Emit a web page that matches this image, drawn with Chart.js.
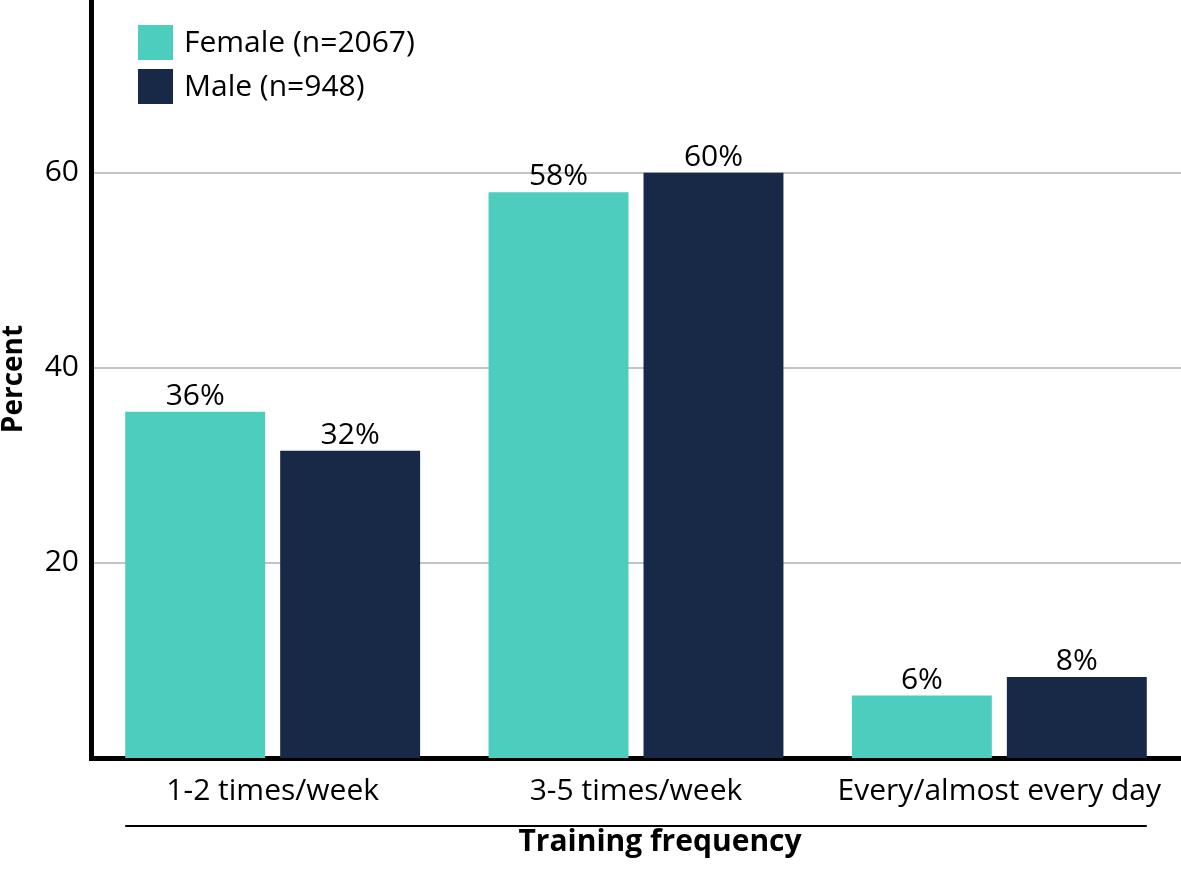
<!DOCTYPE html>
<html>
<head>
<meta charset="utf-8">
<script src="https://cdn.jsdelivr.net/npm/chart.js@4.4.0/dist/chart.umd.min.js"></script>
<style>
  body { margin: 0; background: #fff; }
  #wrap { width: 1181px; height: 870px; }
</style>
</head>
<body>
<div id="wrap"><canvas id="chart" width="1181" height="870"></canvas></div>
<script>
var categories = ["1-2 times/week", "3-5 times/week", "Every/almost every day"];
var femaleValues = [35.5, 58, 6.4];
var maleValues = [31.5, 60, 8.3];
var seriesNames = ["Female (n=2067)", "Male (n=948)"];
var yTicks = [20, 40, 60];

var FONT = "'Open Sans', sans-serif";

// value labels above bars, the legend box and the bracket line under the categories
var decorations = {
  id: 'decorations',
  afterDatasetsDraw: function(chart) {
    var ctx = chart.ctx;
    ctx.save();
    ctx.fillStyle = '#000';
    ctx.font = '30px ' + FONT;
    ctx.textAlign = 'center';
    ctx.textBaseline = 'alphabetic';
    chart.data.datasets.forEach(function(ds, i) {
      var meta = chart.getDatasetMeta(i);
      meta.data.forEach(function(bar, j) {
        ctx.fillText(Math.round(ds.data[j]) + '%', bar.x, bar.y - 7);
      });
    });
    ctx.restore();
  },
  afterDraw: function(chart) {
    var ctx = chart.ctx;
    var area = chart.chartArea;
    ctx.save();
    // legend
    ctx.font = '30px ' + FONT;
    ctx.textBaseline = 'middle';
    ctx.textAlign = 'left';
    chart.data.datasets.forEach(function(ds, i) {
      var y = 25 + i * 44;
      ctx.fillStyle = ds.backgroundColor;
      ctx.fillRect(138, y, 35, 35);
      ctx.fillStyle = '#000';
      ctx.fillText(ds.label, 184, y + 18);
    });
    // bracket line under the category labels
    var first = chart.getDatasetMeta(0).data[0];
    var lastMeta = chart.getDatasetMeta(chart.data.datasets.length - 1);
    var last = lastMeta.data[lastMeta.data.length - 1];
    var x0 = first.x - first.width / 2;
    var x1 = last.x + last.width / 2;
    var ly = area.bottom + 68;
    ctx.strokeStyle = '#000';
    ctx.lineWidth = 2;
    ctx.beginPath();
    ctx.moveTo(x0, ly);
    ctx.lineTo(x1, ly);
    ctx.stroke();
    // axis title
    ctx.font = 'bold 30px ' + FONT;
    ctx.fillStyle = '#000';
    ctx.textAlign = 'center';
    ctx.textBaseline = 'alphabetic';
    ctx.fillText('Training frequency', (x0 + x1) / 2 + 24, area.bottom + 93);
    ctx.restore();
  }
};

new Chart(document.getElementById('chart'), {
  type: 'bar',
  data: {
    labels: categories,
    datasets: [
      { label: seriesNames[0], data: femaleValues, backgroundColor: '#4ccdbe' },
      { label: seriesNames[1], data: maleValues, backgroundColor: '#172946' }
    ]
  },
  options: {
    responsive: false,
    animation: false,
    categoryPercentage: 0.853,
    barPercentage: 0.903,
    layout: { padding: 0 },
    plugins: {
      legend: { display: false },
      tooltip: { enabled: false }
    },
    scales: {
      x: {
        grid: { display: false, drawTicks: false },
        border: { display: true, color: '#000', width: 5 },
        ticks: {
          color: '#000',
          font: { family: FONT, size: 30 },
          padding: 15,
          maxRotation: 0
        },
        afterFit: function(scale) {
          scale.height = 112;
          scale.paddingLeft = 0;
          scale.paddingRight = 0;
        }
      },
      y: {
        min: 0,
        max: 77.7,
        grid: { color: '#c4c4c4', lineWidth: 2, drawTicks: false },
        border: { display: true, color: '#000', width: 5 },
        ticks: {
          color: '#000',
          font: { family: FONT, size: 30 },
          padding: 12
        },
        afterBuildTicks: function(scale) {
          scale.ticks = yTicks.map(function(v) { return { value: v }; });
        },
        title: {
          display: true,
          text: 'Percent',
          color: '#000',
          font: { family: FONT, size: 28, weight: 'bold', lineHeight: 1 },
          padding: 0
        },
        afterFit: function(scale) {
          scale.width = 91;
          scale.paddingTop = 0;
          scale.paddingBottom = 0;
        }
      }
    }
  },
  plugins: [decorations]
});
</script>
</body>
</html>
